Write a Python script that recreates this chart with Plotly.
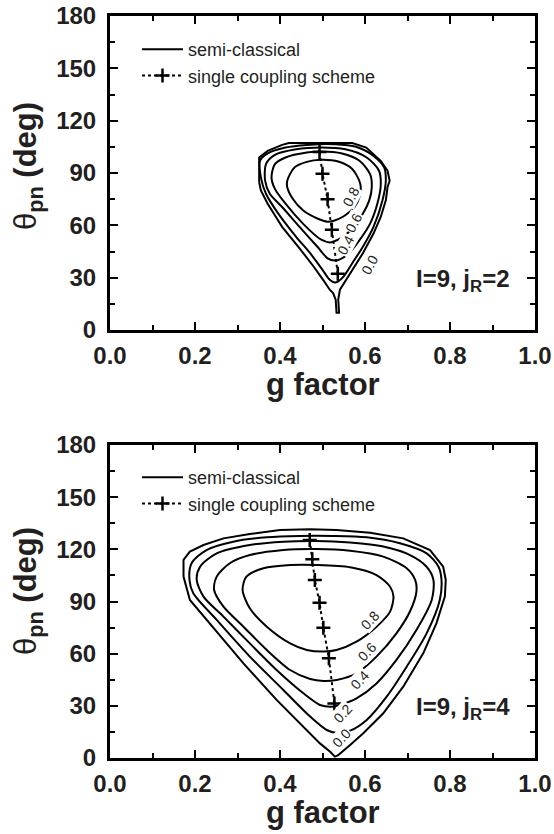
import plotly.graph_objects as go

# ---------------- data ----------------
# contour levels (g factor, theta_pn in deg) -- upper panel, I=9, jR=2
TOP_C08 = [(.417, 85.6), (.434, 93.2), (.463, 96.4), (.496, 97.6), (.537, 96.6), (.570, 92.3), (.589, 83.7),
           (.587, 76.2), (.575, 70.5), (.550, 65.2), (.525, 62.5), (.512, 62.1), (.488, 63.9), (.454, 68.6),
           (.430, 75.2), (.417, 81.8)]
TOP_C06 = [(.380, 87.5), (.388, 95.1), (.413, 98.9), (.463, 101.7), (.496, 102.3), (.546, 101.2), (.587, 97.0),
           (.612, 89.4), (.616, 81.9), (.610, 74.3), (.595, 66.7), (.570, 58.2), (.546, 53.1), (.525, 50.6),
           (.517, 50.2), (.496, 51.9), (.454, 61.0), (.413, 72.4), (.388, 80.9)]
TOP_C04 = [(.365, 85.6), (.367, 95.1), (.388, 100.4), (.438, 103.6), (.496, 104.6), (.554, 103.6), (.604, 98.9),
           (.633, 91.3), (.637, 82.8), (.629, 72.4), (.612, 61.0), (.587, 51.5), (.562, 44.0), (.541, 40.5),
           (.529, 39.8), (.512, 41.1), (.488, 47.7), (.446, 59.1), (.405, 70.5), (.376, 78.1)]
TOP_C02 = [(.355, 87.5), (.353, 97.0), (.371, 101.2), (.413, 104.6), (.463, 106.1), (.529, 106.5), (.579, 105.0),
           (.620, 99.8), (.645, 93.2), (.649, 85.6), (.641, 74.3), (.620, 59.1), (.595, 47.7), (.570, 38.3),
           (.550, 30.7), (.537, 27.9), (.529, 27.3), (.517, 28.8), (.500, 34.5), (.471, 44.0), (.438, 53.4),
           (.396, 66.7), (.367, 78.1)]
TOP_C00 = [(.351, 84.7), (.351, 98.9), (.371, 102.7), (.405, 106.1), (.421, 107.2), (.570, 107.2), (.603, 104.6),
           (.637, 97.0), (.653, 91.3), (.658, 85.6), (.653, 81.8), (.649, 74.3), (.637, 64.8), (.620, 55.3),
           (.595, 44.0), (.570, 34.5), (.550, 26.9), (.541, 23.1), (.537, 17.4), (.539, 9.9), (.533, 9.9),
           (.531, 17.4), (.525, 21.2), (.517, 23.1), (.504, 27.9), (.479, 36.4), (.446, 46.8), (.405, 59.1),
           (.371, 72.4), (.355, 80.0)]

# lower panel, I=9, jR=4
BOT_C08 = [(.312, 96.6), (.321, 104.3), (.361, 109.1), (.424, 111.0), (.486, 111.0), (.565, 109.7), (.627, 105.2),
           (.659, 98.5), (.667, 92.8), (.659, 84.2), (.627, 75.5), (.580, 66.9), (.533, 62.1), (.502, 61.2),
           (.463, 62.1), (.424, 65.9), (.369, 75.5), (.329, 86.1)]
BOT_C06 = [(.245, 96.6), (.251, 104.3), (.282, 112.0), (.329, 116.7), (.408, 119.6), (.486, 120.2), (.565, 119.2),
           (.643, 115.8), (.698, 109.1), (.718, 102.4), (.721, 95.7), (.706, 84.4), (.674, 71.7), (.627, 58.3),
           (.580, 48.7), (.533, 44.9), (.502, 44.3), (.471, 45.4), (.424, 50.6), (.369, 62.1), (.314, 75.5),
           (.267, 87.0)]
BOT_C04 = [(.204, 102.4), (.212, 110.0), (.251, 117.7), (.329, 122.5), (.408, 124.4), (.486, 124.8), (.565, 123.9),
           (.643, 121.6), (.706, 116.7), (.745, 110.0), (.761, 102.4), (.757, 90.9), (.721, 73.6), (.674, 56.4),
           (.627, 42.9), (.580, 34.3), (.541, 30.5), (.521, 29.5), (.494, 30.5), (.455, 37.2), (.392, 50.6),
           (.329, 65.9), (.267, 81.3), (.220, 92.8)]
BOT_C02 = [(.187, 102.4), (.192, 112.0), (.227, 119.6), (.290, 124.4), (.369, 126.9), (.447, 127.7), (.525, 127.7),
           (.604, 126.9), (.682, 123.5), (.745, 117.7), (.773, 110.0), (.780, 102.4), (.776, 90.9), (.745, 71.7),
           (.698, 52.5), (.651, 35.3), (.604, 21.9), (.565, 15.7), (.537, 14.2), (.510, 16.1), (.471, 23.8),
           (.408, 39.1), (.329, 58.3), (.251, 79.4), (.196, 94.7)]
BOT_C00 = [(.173, 104.3), (.173, 113.9), (.188, 118.7), (.220, 122.5), (.267, 126.3), (.329, 128.8), (.400, 131.1),
           (.471, 131.5), (.533, 131.1), (.612, 129.6), (.690, 126.3), (.753, 119.6), (.784, 110.0), (.790, 102.4),
           (.788, 93.0), (.768, 77.4), (.737, 60.2), (.690, 41.0), (.643, 25.7), (.596, 14.2), (.565, 7.5),
           (.537, 1.7), (.529, 0.8), (.518, 3.6), (.494, 8.4), (.455, 18.0), (.392, 33.4), (.314, 54.4),
           (.235, 77.4), (.188, 90.9)]

# single coupling scheme points
TOP_SC_G = [0.493, 0.500, 0.512, 0.522, 0.536]
TOP_SC_T = [102.0, 89.6, 75.0, 57.5, 32.3]
BOT_SC_G = [0.470, 0.476, 0.482, 0.493, 0.502, 0.515, 0.528]
BOT_SC_T = [125.4, 114.3, 102.4, 89.3, 74.9, 57.3, 31.4]

# contour labels (text, g, theta)
TOP_LABELS = [("0.8", 0.566, 76.4), ("0.6", 0.573, 61.4), ("0.4", 0.555, 48.7), ("0.0", 0.611, 37.3)]
BOT_LABELS = [("0.8", 0.612, 79.4), ("0.6", 0.604, 61.2), ("0.4", 0.588, 44.9), ("0.2", 0.549, 25.7),
              ("0.0", 0.545, 11.3)]

PANEL_TEXT = ["I=9, j<sub>R</sub>=2", "I=9, j<sub>R</sub>=4"]
LEGEND_NAMES = ["semi-classical", "single coupling scheme"]
X_TITLE = "g factor"
Y_TITLE = "<span style='font-weight:normal'>θ</span><sub>pn</sub> (deg)"

# ---------------- figure ----------------
INK = "#231f20"
FONT = "Liberation Sans, Arial, sans-serif"
W, H = 554, 834
ML, MR, MT, MB = 110, 19, 16, 76
PH = H - MT - MB
PW = W - ML - MR

fig = go.Figure()

panels = [
    dict(contours=[TOP_C08, TOP_C06, TOP_C04, TOP_C02, TOP_C00], sg=TOP_SC_G, st=TOP_SC_T,
         labels=TOP_LABELS, angle=-62, xa="x", ya="y", legend="legend"),
    dict(contours=[BOT_C08, BOT_C06, BOT_C04, BOT_C02, BOT_C00], sg=BOT_SC_G, st=BOT_SC_T,
         labels=BOT_LABELS, angle=-47, xa="x2", ya="y2", legend="legend2"),
]

annotations = []
for pi, p in enumerate(panels):
    for ci, c in enumerate(p["contours"]):
        gx = [q[0] for q in c] + [c[0][0]]
        ty = [q[1] for q in c] + [c[0][1]]
        outer = ci == len(p["contours"]) - 1
        fig.add_trace(go.Scatter(
            x=gx, y=ty, mode="lines", xaxis=p["xa"], yaxis=p["ya"],
            line=dict(color="black", width=2.0,
                      shape="linear" if outer else "spline", smoothing=0.8),
            name=LEGEND_NAMES[0], showlegend=(ci == 0), legend=p["legend"], legendgroup="a",
            hoverinfo="skip"))
    fig.add_trace(go.Scatter(
        x=p["sg"], y=p["st"], mode="lines+markers", xaxis=p["xa"], yaxis=p["ya"],
        line=dict(color="black", width=2, dash="dot"),
        marker=dict(symbol="cross-thin", size=10, color="black", line=dict(color="black", width=2.5)),
        name=LEGEND_NAMES[1], legend=p["legend"], legendgroup="b", hoverinfo="skip"))
    xref = p["xa"]
    yref = p["ya"]
    for txt, gx, ty in p["labels"]:
        annotations.append(dict(x=gx, y=ty, xref=xref, yref=yref, text=txt, showarrow=False,
                                textangle=p["angle"], font=dict(family=FONT, size=14, color=INK),
                                bgcolor="white", borderpad=0))
    annotations.append(dict(x=0.83, y=28.5, xref=xref, yref=yref, text=PANEL_TEXT[pi], showarrow=False,
                            font=dict(family=FONT, size=24, color=INK, weight="bold")))

axis_common = dict(showline=True, linewidth=3, linecolor="black", mirror="ticks", showgrid=False,
                   zeroline=False, ticks="inside", ticklen=8, tickwidth=2, tickcolor="black",
                   automargin=False,
                   tickfont=dict(family=FONT, size=24, color=INK, weight="bold"))

top_dom = [(758 - 330) / PH, 1.0]
bot_dom = [0.0, (758 - 445) / PH]

for xname, yname, ydom, yanchor, xanchor in [("xaxis", "yaxis", top_dom, "y", "x"),
                                              ("xaxis2", "yaxis2", bot_dom, "y2", "x2")]:
    fig.layout[xname] = dict(axis_common, range=[0, 1], tick0=0, dtick=0.2, tickformat=".1f",
                             domain=[0, 1], anchor=yanchor, ticklabelstandoff=2,
                             minor=dict(dtick=0.1, ticks="inside", ticklen=5, tickwidth=2, tickcolor="black"))
    fig.layout[yname] = dict(axis_common, range=[0, 180], tick0=0, dtick=30, tickformat="d",
                             domain=ydom, anchor=xanchor, ticklabelstandoff=6,
                             minor=dict(dtick=15, ticks="inside", ticklen=5, tickwidth=2, tickcolor="black"))

def py(pix):
    return (758 - pix) / PH

for ycen_x, ycen_y in [(385, 166), (812, 591)]:
    annotations.append(dict(x=0.5, y=py(ycen_x), xref="paper", yref="paper", text=X_TITLE, showarrow=False,
                            xanchor="center", yanchor="middle",
                            font=dict(family=FONT, size=31, color=INK, weight="bold")))
    annotations.append(dict(x=(28 - ML) / PW, y=py(ycen_y), xref="paper", yref="paper",
                            text=Y_TITLE, showarrow=False, textangle=-90, xanchor="center", yanchor="middle",
                            font=dict(family=FONT, size=31, color=INK, weight="bold")))

legend_common = dict(bgcolor="rgba(0,0,0,0)", borderwidth=0, xanchor="left", yanchor="top",
                     font=dict(family=FONT, size=18, color=INK), tracegroupgap=0, itemwidth=41)
fig.update_layout(
    width=W, height=H, margin=dict(l=ML, r=MR, t=MT, b=MB, pad=0, autoexpand=False),
    paper_bgcolor="white", plot_bgcolor="white",
    annotations=annotations,
    legend=dict(legend_common, x=(137 - ML) / PW, y=py(31)),
    legend2=dict(legend_common, x=(137 - ML) / PW, y=py(459)),
)

fig.write_html("out.html")
